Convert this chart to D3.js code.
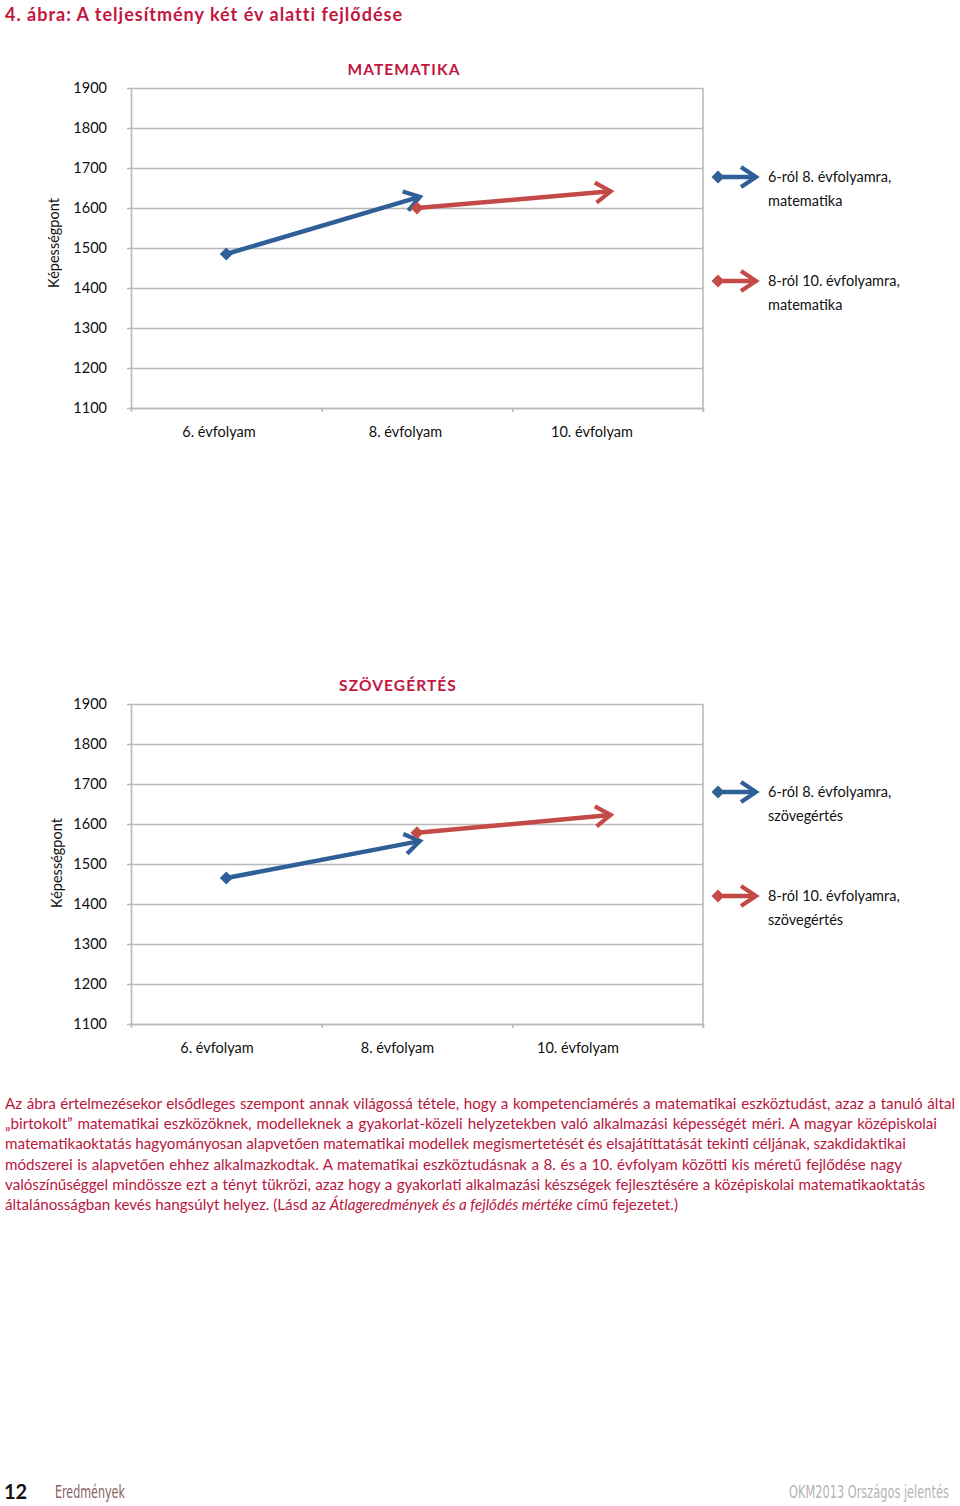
<!DOCTYPE html>
<html><head><meta charset="utf-8">
<script src="https://cdn.jsdelivr.net/npm/d3@7"></script>
<style>
body{margin:0;background:#fff;width:960px;height:1506px;position:relative;overflow:hidden;font-family:Lato,'Noto Sans',sans-serif}
svg{position:absolute;left:0;top:0}
#para{position:absolute;left:5px;top:1093px;color:#b8163e;font-size:14px;line-height:20.2px}
#para div{white-space:nowrap;text-align:justify;text-align-last:justify;height:20.2px}
#para div.last{text-align:left;text-align-last:left}
</style></head><body>
<svg id="chart" width="960" height="1506"></svg>
<div id="para"></div>
<script>
// ---------- data ----------
const categories = ["6. évfolyam", "8. évfolyam", "10. évfolyam"];
const yTicks = [1100, 1200, 1300, 1400, 1500, 1600, 1700, 1800, 1900];
const mathFrom6to8 = [1485, 1626];
const mathFrom8to10 = [1600, 1641];
const readFrom6to8 = [1465, 1556];
const readFrom8to10 = [1578, 1622];
const mathLegend = [["6-ról 8. évfolyamra,", "matematika"], ["8-ról 10. évfolyamra,", "matematika"]];
const readLegend = [["6-ról 8. évfolyamra,", "szövegértés"], ["8-ról 10. évfolyamra,", "szövegértés"]];
const chartTitles = ["MATEMATIKA", "SZÖVEGÉRTÉS"];
const figureTitle = "4. ábra: A teljesítmény két év alatti fejlődése";
const yAxisTitle = "Képességpont";
const paragraphLines = [
  "Az ábra értelmezésekor elsődleges szempont annak világossá tétele, hogy a kompetenciamérés a matematikai eszköztudást, azaz a tanuló által",
  "„birtokolt” matematikai eszközöknek, modelleknek a gyakorlat-közeli helyzetekben való alkalmazási képességét méri. A magyar középiskolai",
  "matematikaoktatás hagyományosan alapvetően matematikai modellek megismertetését és elsajátíttatását tekinti céljának, szakdidaktikai",
  "módszerei is alapvetően ehhez alkalmazkodtak. A matematikai eszköztudásnak a 8. és a 10. évfolyam közötti kis méretű fejlődése nagy",
  "valószínűséggel mindössze ezt a tényt tükrözi, azaz hogy a gyakorlati alkalmazási készségek fejlesztésére a középiskolai matematikaoktatás",
  "általánosságban kevés hangsúlyt helyez. (Lásd az <i>Átlageredmények és a fejlődés mértéke</i> című fejezetet.)"
];
const footer = {page: "12", section: "Eredmények", report: "OKM2013 Országos jelentés"};

// ---------- styles ----------
const BLUE = "#2f5f97", RED = "#c44a48", CRIMSON = "#c2163f", GRID = "#b9b9b9";
const svg = d3.select("#chart");

// markers
const defs = svg.append("defs");
[["blue", BLUE], ["red", RED]].forEach(([n, c]) => {
  defs.append("marker").attr("id", "arr-" + n)
    .attr("markerUnits", "userSpaceOnUse").attr("orient", "auto")
    .attr("viewBox", "-22 -16 30 32").attr("markerWidth", 30).attr("markerHeight", 32)
    .attr("refX", -3).attr("refY", 0)
    .append("path").attr("d", "M-15,-10 L0,0 L-15,10")
    .attr("fill", "none").attr("stroke", c).attr("stroke-width", 4.2).attr("stroke-linejoin", "miter");
  defs.append("marker").attr("id", "dia-" + n)
    .attr("markerUnits", "userSpaceOnUse").attr("orient", 0)
    .attr("viewBox", "-8 -8 16 16").attr("markerWidth", 16).attr("markerHeight", 16)
    .attr("refX", 0).attr("refY", 0)
    .append("path").attr("d", "M0,-6.5 L6.5,0 L0,6.5 L-6.5,0Z").attr("fill", c);
});

// figure title
svg.append("text").attr("x", 5).attr("y", 21).attr("fill", CRIMSON)
  .attr("font-weight", 700).attr("font-size", 18).attr("letter-spacing", 1).text(figureTitle);

function drawChart(cfg) {
  const x = d3.scaleBand().domain(categories).range([cfg.left, cfg.right]);
  const xLab = d3.scalePoint().domain(categories).range(cfg.labelRange);
  const y = d3.scaleLinear().domain([1100, 1900]).range([cfg.bottom, cfg.top]);
  const g = svg.append("g");

  // grid
  g.append("g").attr("transform", `translate(${cfg.left},0)`)
    .call(d3.axisLeft(y).tickValues(yTicks).tickSize(-(cfg.right - cfg.left)).tickFormat(""))
    .call(s => s.select(".domain").remove())
    .call(s => s.selectAll("line").attr("stroke", GRID).attr("stroke-width", 1.6));
  // right border
  g.append("line").attr("x1", cfg.right).attr("x2", cfg.right).attr("y1", cfg.top).attr("y2", cfg.bottom + 4)
    .attr("stroke", GRID).attr("stroke-width", 1.6);

  // y axis
  g.append("g").attr("transform", `translate(${cfg.left},0)`)
    .call(d3.axisLeft(y).tickValues(yTicks).tickSize(4).tickPadding(20).tickFormat(d3.format("d")).tickSizeOuter(0))
    .call(s => s.select(".domain").attr("stroke", GRID).attr("stroke-width", 1.6))
    .call(s => s.selectAll("line").attr("stroke", GRID).attr("stroke-width", 1.6))
    .call(s => s.selectAll("text").attr("fill", "#111").attr("font-size", 14.5).attr("font-family", "Lato").attr("dy", "0.3em"));

  // x axis (ticks at band boundaries)
  const bounds = categories.map(c => x(c)).concat([x(categories[categories.length - 1]) + x.bandwidth()]);
  const xb = d3.scaleLinear().domain([cfg.left, cfg.right]).range([cfg.left, cfg.right]);
  g.append("g").attr("transform", `translate(0,${cfg.bottom})`)
    .call(d3.axisBottom(xb).tickValues(bounds).tickSize(4).tickFormat("").tickSizeOuter(0))
    .call(s => s.select(".domain").attr("stroke", GRID).attr("stroke-width", 1.6))
    .call(s => s.selectAll("line").attr("stroke", GRID).attr("stroke-width", 1.6));
  g.selectAll(".xlab").data(categories).join("text").attr("class", "xlab")
    .attr("x", d => xLab(d)).attr("y", cfg.bottom + 29).attr("text-anchor", "middle")
    .attr("font-size", 14.5).attr("fill", "#111").text(d => d);

  // axis title
  g.append("text").attr("transform", `translate(${cfg.ytitleX},${cfg.ytitleY}) rotate(-90)`)
    .attr("text-anchor", "middle").attr("font-size", 14.5).attr("fill", "#111").text(yAxisTitle);

  // chart title
  g.append("text").attr("x", cfg.titleX).attr("y", cfg.top - 13).attr("text-anchor", "middle")
    .attr("font-size", 15.5).attr("font-weight", 700).attr("fill", CRIMSON).attr("letter-spacing", 1.1).text(cfg.title);

  // series
  const line = d3.line().x(d => x(d.c) + x.bandwidth() / 2).y(d => y(d.v));
  const series = [
    {color: "blue", stroke: BLUE, pts: [{c: categories[0], v: cfg.s1[0]}, {c: categories[1], v: cfg.s1[1]}]},
    {color: "red", stroke: RED, pts: [{c: categories[1], v: cfg.s2[0]}, {c: categories[2], v: cfg.s2[1]}]}
  ];
  g.selectAll(".series").data(series).join("path").attr("class", "series")
    .attr("d", d => line(d.pts)).attr("fill", "none").attr("stroke", d => d.stroke)
    .attr("stroke-width", 4.5)
    .attr("marker-start", d => `url(#dia-${d.color})`).attr("marker-end", d => `url(#arr-${d.color})`);

  // legend
  const lg = g.selectAll(".leg").data(series.map((s, i) => ({...s, text: cfg.legend[i], y: cfg.legendY[i]})))
    .join("g").attr("class", "leg");
  lg.append("path").attr("d", d => `M718,${d.y} L753,${d.y}`).attr("stroke", d => d.stroke)
    .attr("stroke-width", 4.5).attr("fill", "none")
    .attr("marker-start", d => `url(#dia-${d.color})`).attr("marker-end", d => `url(#arr-${d.color})`);
  lg.append("text").attr("x", 768).attr("y", d => d.y + 5).attr("font-size", 14.5).attr("fill", "#111")
    .text(d => d.text[0]);
  lg.append("text").attr("x", 768).attr("y", d => d.y + 29).attr("font-size", 14.5).attr("fill", "#111")
    .text(d => d.text[1]);
}

drawChart({top: 88, bottom: 408, left: 131, right: 703, labelRange: [219, 592], title: chartTitles[0],
  titleX: 404, ytitleX: 59, ytitleY: 243, s1: mathFrom6to8, s2: mathFrom8to10, legend: mathLegend, legendY: [177, 281]});
drawChart({top: 704, bottom: 1024, left: 131, right: 703, labelRange: [217, 578], title: chartTitles[1],
  titleX: 398, ytitleX: 62, ytitleY: 863, s1: readFrom6to8, s2: readFrom8to10, legend: readLegend, legendY: [792, 896]});

// paragraph
const lineWidths = [950, 932, 895, 897, 920, null];
const para = d3.select("#para");
para.selectAll("div").data(paragraphLines).join("div")
  .attr("class", (d, i) => lineWidths[i] ? null : "last")
  .style("width", (d, i) => lineWidths[i] ? lineWidths[i] + "px" : null)
  .html(d => d);
// fit font size so that the natural last line spans ~673px
(function fit() {
  const last = para.select("div.last").node();
  const span = document.createElement("span");
  span.innerHTML = last.innerHTML; span.style.whiteSpace = "nowrap";
  last.innerHTML = ""; last.appendChild(span);
  const w = span.getBoundingClientRect().width;
  const fs = 14 * 673 / w;
  para.style("font-size", fs.toFixed(2) + "px");
})();

// footer
svg.append("text").attr("x", 4).attr("y", 1499).attr("font-size", 20).attr("font-weight", 700).attr("fill", "#111").text(footer.page);
function condensed(txt, x0, width, color) {
  const t = svg.append("text").attr("x", 0).attr("y", 0).attr("font-size", 17).attr("fill", color)
    .attr("font-family", "'DejaVu Sans Condensed','DejaVu Sans',sans-serif").text(txt);
  const w = t.node().getComputedTextLength();
  t.attr("transform", `translate(${x0},1498) scale(${(width / w).toFixed(4)},1)`);
}
condensed(footer.section, 55, 70, "#8a6262");
condensed(footer.report, 789, 160, "#b3b3b3");
</script>
</body></html>
